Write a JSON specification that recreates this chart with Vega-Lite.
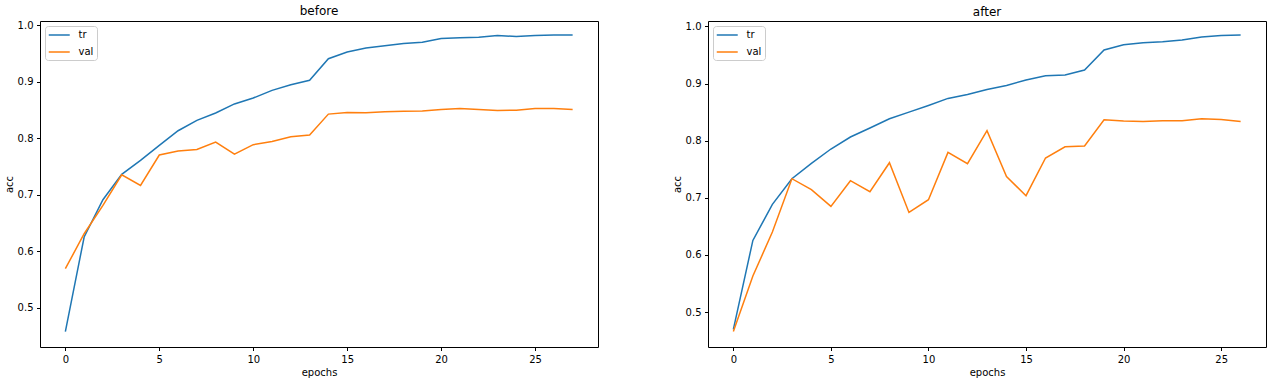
{
  "$schema": "https://vega.github.io/schema/vega-lite/v6.json",
  "padding": {"left": 3, "top": 4, "right": 5, "bottom": 0},
  "spacing": 72,
  "config": {
    "font": "DejaVu Sans",
    "view": {"stroke": "#000000", "strokeWidth": 1},
    "axis": {
      "grid": false, "domain": false, "tickColor": "#000000", "tickWidth": 1, "tickSize": 3.5,
      "labelFont": "DejaVu Sans", "labelFontSize": 10, "labelColor": "#000000", "labelPadding": 3.5,
      "titleFont": "DejaVu Sans", "titleFontSize": 10, "titleFontWeight": "normal", "titleColor": "#000000", "titlePadding": 3
    },
    "title": {"font": "DejaVu Sans", "fontSize": 12, "fontWeight": "normal", "color": "#000000", "offset": 2},
    "legend": {
      "orient": "top-left", "offset": 5, "padding": 3, "fillColor": "rgba(255,255,255,0.8)", "strokeColor": "#cccccc",
      "cornerRadius": 3, "symbolType": "M-1,0H3", "symbolSize": 110, "symbolStrokeWidth": 1.5,
      "labelFont": "DejaVu Sans", "labelFontSize": 10, "labelColor": "#000000", "labelOffset": 18.5, "rowPadding": 6
    }
  },
  "data": {"values": [
    {"panel":"before","series":"tr","epoch":0,"acc":0.458},
    {"panel":"before","series":"tr","epoch":1,"acc":0.6255},
    {"panel":"before","series":"tr","epoch":2,"acc":0.6915},
    {"panel":"before","series":"tr","epoch":3,"acc":0.7363},
    {"panel":"before","series":"tr","epoch":4,"acc":0.761},
    {"panel":"before","series":"tr","epoch":5,"acc":0.7876},
    {"panel":"before","series":"tr","epoch":6,"acc":0.8136},
    {"panel":"before","series":"tr","epoch":7,"acc":0.832},
    {"panel":"before","series":"tr","epoch":8,"acc":0.845},
    {"panel":"before","series":"tr","epoch":9,"acc":0.861},
    {"panel":"before","series":"tr","epoch":10,"acc":0.8715},
    {"panel":"before","series":"tr","epoch":11,"acc":0.885},
    {"panel":"before","series":"tr","epoch":12,"acc":0.895},
    {"panel":"before","series":"tr","epoch":13,"acc":0.903},
    {"panel":"before","series":"tr","epoch":14,"acc":0.941},
    {"panel":"before","series":"tr","epoch":15,"acc":0.953},
    {"panel":"before","series":"tr","epoch":16,"acc":0.960},
    {"panel":"before","series":"tr","epoch":17,"acc":0.964},
    {"panel":"before","series":"tr","epoch":18,"acc":0.968},
    {"panel":"before","series":"tr","epoch":19,"acc":0.970},
    {"panel":"before","series":"tr","epoch":20,"acc":0.977},
    {"panel":"before","series":"tr","epoch":21,"acc":0.978},
    {"panel":"before","series":"tr","epoch":22,"acc":0.979},
    {"panel":"before","series":"tr","epoch":23,"acc":0.982},
    {"panel":"before","series":"tr","epoch":24,"acc":0.9805},
    {"panel":"before","series":"tr","epoch":25,"acc":0.982},
    {"panel":"before","series":"tr","epoch":26,"acc":0.9832},
    {"panel":"before","series":"tr","epoch":27,"acc":0.9832},
    {"panel":"before","series":"val","epoch":0,"acc":0.5694},
    {"panel":"before","series":"val","epoch":1,"acc":0.6313},
    {"panel":"before","series":"val","epoch":2,"acc":0.6814},
    {"panel":"before","series":"val","epoch":3,"acc":0.7357},
    {"panel":"before","series":"val","epoch":4,"acc":0.7168},
    {"panel":"before","series":"val","epoch":5,"acc":0.7706},
    {"panel":"before","series":"val","epoch":6,"acc":0.7777},
    {"panel":"before","series":"val","epoch":7,"acc":0.7805},
    {"panel":"before","series":"val","epoch":8,"acc":0.7936},
    {"panel":"before","series":"val","epoch":9,"acc":0.7723},
    {"panel":"before","series":"val","epoch":10,"acc":0.7889},
    {"panel":"before","series":"val","epoch":11,"acc":0.7947},
    {"panel":"before","series":"val","epoch":12,"acc":0.803},
    {"panel":"before","series":"val","epoch":13,"acc":0.806},
    {"panel":"before","series":"val","epoch":14,"acc":0.843},
    {"panel":"before","series":"val","epoch":15,"acc":0.846},
    {"panel":"before","series":"val","epoch":16,"acc":0.8455},
    {"panel":"before","series":"val","epoch":17,"acc":0.8473},
    {"panel":"before","series":"val","epoch":18,"acc":0.848},
    {"panel":"before","series":"val","epoch":19,"acc":0.8485},
    {"panel":"before","series":"val","epoch":20,"acc":0.8513},
    {"panel":"before","series":"val","epoch":21,"acc":0.853},
    {"panel":"before","series":"val","epoch":22,"acc":0.8513},
    {"panel":"before","series":"val","epoch":23,"acc":0.8496},
    {"panel":"before","series":"val","epoch":24,"acc":0.850},
    {"panel":"before","series":"val","epoch":25,"acc":0.853},
    {"panel":"before","series":"val","epoch":26,"acc":0.853},
    {"panel":"before","series":"val","epoch":27,"acc":0.8513},
    {"panel":"after","series":"tr","epoch":0,"acc":0.4696},
    {"panel":"after","series":"tr","epoch":1,"acc":0.6254},
    {"panel":"after","series":"tr","epoch":2,"acc":0.6884},
    {"panel":"after","series":"tr","epoch":3,"acc":0.7334},
    {"panel":"after","series":"tr","epoch":4,"acc":0.7602},
    {"panel":"after","series":"tr","epoch":5,"acc":0.7854},
    {"panel":"after","series":"tr","epoch":6,"acc":0.8064},
    {"panel":"after","series":"tr","epoch":7,"acc":0.8222},
    {"panel":"after","series":"tr","epoch":8,"acc":0.8384},
    {"panel":"after","series":"tr","epoch":9,"acc":0.850},
    {"panel":"after","series":"tr","epoch":10,"acc":0.8617},
    {"panel":"after","series":"tr","epoch":11,"acc":0.874},
    {"panel":"after","series":"tr","epoch":12,"acc":0.881},
    {"panel":"after","series":"tr","epoch":13,"acc":0.8897},
    {"panel":"after","series":"tr","epoch":14,"acc":0.8967},
    {"panel":"after","series":"tr","epoch":15,"acc":0.9062},
    {"panel":"after","series":"tr","epoch":16,"acc":0.9137},
    {"panel":"after","series":"tr","epoch":17,"acc":0.915},
    {"panel":"after","series":"tr","epoch":18,"acc":0.9237},
    {"panel":"after","series":"tr","epoch":19,"acc":0.9587},
    {"panel":"after","series":"tr","epoch":20,"acc":0.968},
    {"panel":"after","series":"tr","epoch":21,"acc":0.9715},
    {"panel":"after","series":"tr","epoch":22,"acc":0.9732},
    {"panel":"after","series":"tr","epoch":23,"acc":0.9762},
    {"panel":"after","series":"tr","epoch":24,"acc":0.9814},
    {"panel":"after","series":"tr","epoch":25,"acc":0.9842},
    {"panel":"after","series":"tr","epoch":26,"acc":0.985},
    {"panel":"after","series":"val","epoch":0,"acc":0.4661},
    {"panel":"after","series":"val","epoch":1,"acc":0.5631},
    {"panel":"after","series":"val","epoch":2,"acc":0.640},
    {"panel":"after","series":"val","epoch":3,"acc":0.7334},
    {"panel":"after","series":"val","epoch":4,"acc":0.7142},
    {"panel":"after","series":"val","epoch":5,"acc":0.6849},
    {"panel":"after","series":"val","epoch":6,"acc":0.7299},
    {"panel":"after","series":"val","epoch":7,"acc":0.7107},
    {"panel":"after","series":"val","epoch":8,"acc":0.7614},
    {"panel":"after","series":"val","epoch":9,"acc":0.6744},
    {"panel":"after","series":"val","epoch":10,"acc":0.6967},
    {"panel":"after","series":"val","epoch":11,"acc":0.7795},
    {"panel":"after","series":"val","epoch":12,"acc":0.7597},
    {"panel":"after","series":"val","epoch":13,"acc":0.8174},
    {"panel":"after","series":"val","epoch":14,"acc":0.737},
    {"panel":"after","series":"val","epoch":15,"acc":0.7037},
    {"panel":"after","series":"val","epoch":16,"acc":0.7697},
    {"panel":"after","series":"val","epoch":17,"acc":0.7894},
    {"panel":"after","series":"val","epoch":18,"acc":0.7906},
    {"panel":"after","series":"val","epoch":19,"acc":0.8367},
    {"panel":"after","series":"val","epoch":20,"acc":0.8344},
    {"panel":"after","series":"val","epoch":21,"acc":0.8337},
    {"panel":"after","series":"val","epoch":22,"acc":0.835},
    {"panel":"after","series":"val","epoch":23,"acc":0.835},
    {"panel":"after","series":"val","epoch":24,"acc":0.8384},
    {"panel":"after","series":"val","epoch":25,"acc":0.8372},
    {"panel":"after","series":"val","epoch":26,"acc":0.8337}
  ]},
  "resolve": {"scale": {"color": "independent"}, "legend": {"color": "independent"}},
  "hconcat": [
    {
      "title": "before",
      "width": 558, "height": 326,
      "transform": [{"filter": "datum.panel === 'before'"}],
      "mark": {"type": "line", "strokeWidth": 1.5, "clip": true},
      "encoding": {
        "x": {"field": "epoch", "type": "quantitative", "title": "epochs",
              "scale": {"domain": [-1.35, 28.35], "nice": false, "zero": false},
              "axis": {"values": [0, 5, 10, 15, 20, 25], "format": "d"}},
        "y": {"field": "acc", "type": "quantitative", "title": "acc",
              "scale": {"domain": [0.4308, 1.0078], "nice": false, "zero": false},
              "axis": {"values": [0.5, 0.6, 0.7, 0.8, 0.9, 1.0], "format": ".1f"}},
        "color": {"field": "series", "type": "nominal",
                  "scale": {"domain": ["tr", "val"], "range": ["#1f77b4", "#ff7f0e"]},
                  "legend": {"title": null}}
      }
    },
    {
      "title": "after",
      "width": 558, "height": 326,
      "transform": [{"filter": "datum.panel === 'after'"}],
      "mark": {"type": "line", "strokeWidth": 1.5, "clip": true},
      "encoding": {
        "x": {"field": "epoch", "type": "quantitative", "title": "epochs",
              "scale": {"domain": [-1.3, 27.3], "nice": false, "zero": false},
              "axis": {"values": [0, 5, 10, 15, 20, 25], "format": "d"}},
        "y": {"field": "acc", "type": "quantitative", "title": "acc",
              "scale": {"domain": [0.4388, 1.0095], "nice": false, "zero": false},
              "axis": {"values": [0.5, 0.6, 0.7, 0.8, 0.9, 1.0], "format": ".1f"}},
        "color": {"field": "series", "type": "nominal",
                  "scale": {"domain": ["tr", "val"], "range": ["#1f77b4", "#ff7f0e"]},
                  "legend": {"title": null}}
      }
    }
  ]
}
